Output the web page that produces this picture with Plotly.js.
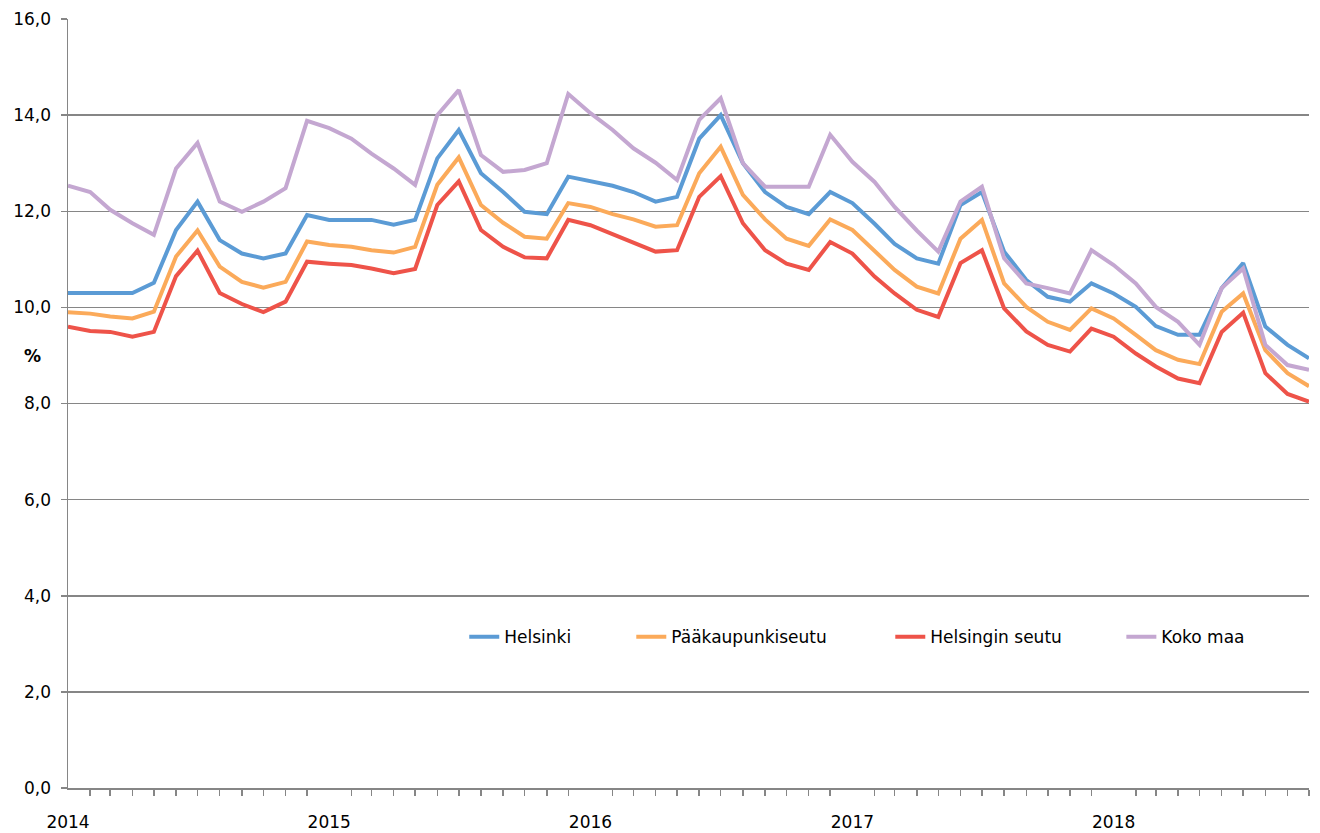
<!DOCTYPE html>
<html><head><meta charset="utf-8">
<script src="https://cdn.plot.ly/plotly-3.0.1.min.js"></script>
<style>body{margin:0;background:#fff}#chart{width:1320px;height:833px}</style>
</head><body><div id="chart"></div>
<script>
const months = ['2014-01-01','2014-02-01','2014-03-01','2014-04-01','2014-05-01','2014-06-01','2014-07-01','2014-08-01','2014-09-01','2014-10-01','2014-11-01','2014-12-01',
'2015-01-01','2015-02-01','2015-03-01','2015-04-01','2015-05-01','2015-06-01','2015-07-01','2015-08-01','2015-09-01','2015-10-01','2015-11-01','2015-12-01',
'2016-01-01','2016-02-01','2016-03-01','2016-04-01','2016-05-01','2016-06-01','2016-07-01','2016-08-01','2016-09-01','2016-10-01','2016-11-01','2016-12-01',
'2017-01-01','2017-02-01','2017-03-01','2017-04-01','2017-05-01','2017-06-01','2017-07-01','2017-08-01','2017-09-01','2017-10-01','2017-11-01','2017-12-01',
'2018-01-01','2018-02-01','2018-03-01','2018-04-01','2018-05-01','2018-06-01','2018-07-01','2018-08-01','2018-09-01','2018-10-01'];

const helsinki = [10.3,10.3,10.3,10.3,10.51,11.61,12.2,11.4,11.12,11.02,11.12,11.92,
11.82,11.82,11.82,11.72,11.82,13.1,13.69,12.79,12.4,11.99,11.94,12.72,
12.63,12.53,12.4,12.2,12.3,13.51,14.0,13.0,12.4,12.09,11.94,12.4,
12.17,11.74,11.32,11.02,10.91,12.13,12.4,11.16,10.57,10.22,10.12,10.5,
10.29,10.01,9.61,9.43,9.43,10.4,10.92,9.6,9.22,8.94];

const paakaupunkiseutu = [9.9,9.87,9.81,9.77,9.91,11.06,11.6,10.85,10.53,10.41,10.53,11.37,
11.3,11.26,11.19,11.14,11.26,12.55,13.12,12.13,11.76,11.47,11.43,12.17,
12.09,11.94,11.83,11.68,11.71,12.79,13.34,12.34,11.83,11.43,11.28,11.83,
11.61,11.16,10.78,10.43,10.29,11.43,11.82,10.5,10.01,9.7,9.53,9.98,
9.77,9.43,9.11,8.91,8.82,9.91,10.29,9.11,8.63,8.36];

const helsinginSeutu = [9.6,9.51,9.49,9.39,9.49,10.65,11.18,10.3,10.07,9.9,10.12,10.95,
10.91,10.88,10.81,10.71,10.8,12.13,12.62,11.61,11.26,11.04,11.02,11.82,
11.71,11.53,11.36,11.16,11.19,12.3,12.73,11.75,11.19,10.91,10.78,11.36,
11.12,10.64,10.29,9.95,9.8,10.92,11.19,9.98,9.5,9.22,9.08,9.56,
9.39,9.04,8.77,8.52,8.42,9.49,9.89,8.63,8.2,8.04];

const kokoMaa = [12.53,12.4,12.03,11.75,11.51,12.89,13.42,12.2,11.99,12.2,12.48,13.88,
13.73,13.51,13.2,12.89,12.55,14.0,14.52,13.17,12.82,12.86,13.0,14.44,
14.04,13.69,13.31,13.01,12.65,13.9,14.35,13.0,12.51,12.51,12.51,13.59,
13.03,12.61,12.09,11.6,11.16,12.2,12.51,11.02,10.5,10.4,10.29,11.19,
10.88,10.5,10.01,9.7,9.22,10.4,10.81,9.22,8.8,8.7];

const seriesNames = ['Helsinki','Pääkaupunkiseutu','Helsingin seutu','Koko maa'];
const seriesColors = ['#5B9BD5','#FBAA5A','#EE5349','#C4A7D1'];
const seriesData = [helsinki, paakaupunkiseutu, helsinginSeutu, kokoMaa];
const legendIds = ['legend','legend2','legend3','legend4'];
const legendX = [0.3193, 0.4539, 0.6626, 0.8488];

const traces = seriesData.map((d,k)=>({
  x: months, y: d, type:'scatter', mode:'lines', name: seriesNames[k],
  legend: legendIds[k],
  line:{color: seriesColors[k], width:4}
}));

const font = {family:'DejaVu Sans, Liberation Sans, sans-serif', size:17, color:'#000'};
const layout = {
  width:1320, height:833,
  margin:{l:68, r:11, t:19, b:45},
  paper_bgcolor:'#fff', plot_bgcolor:'#fff',
  font: font,
  separators: ', ',
  showlegend:true,
  xaxis:{type:'date', range:['2014-01-01','2018-10-01'],
         tickmode:'linear', tick0:'2014-01-01', dtick:'M12', tickformat:'%Y',
         ticks:'', showgrid:false, zeroline:false,
         showline:true, linecolor:'#868686', linewidth:1.5,
         ticklabelstandoff:18,
         minor:{dtick:'M1', tick0:'2014-01-01', ticks:'outside', ticklen:6, tickcolor:'#868686', tickwidth:1.5, showgrid:false},
         tickfont: font},
  yaxis:{range:[0,16], tickmode:'linear', tick0:0, dtick:2, tickformat:'.1f',
         showgrid:true, gridcolor:'#868686', gridwidth:1.5,
         zeroline:false, showline:true, linecolor:'#868686', linewidth:1.5,
         ticks:'outside', ticklen:6, tickcolor:'#868686', tickwidth:1.5,
         ticklabelstandoff:6, tickfont: font},
  annotations:[{text:'<b>%</b>', xref:'paper', yref:'paper', x:-0.029, y:0.562,
                xanchor:'center', yanchor:'middle', showarrow:false,
                font:{family:font.family, size:17, color:'#000'}}]
};
legendIds.forEach((id,k)=>{
  layout[id] = {orientation:'h', x:legendX[k], y:0.196, xanchor:'left', yanchor:'middle',
                font: font, bgcolor:'rgba(0,0,0,0)', itemwidth:30};
});
Plotly.newPlot('chart', traces, layout, {displayModeBar:false, staticPlot:true});
</script></body></html>
